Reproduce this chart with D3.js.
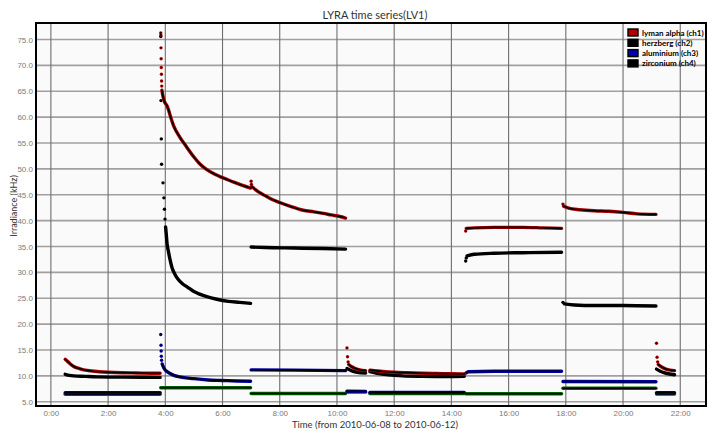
<!DOCTYPE html>
<html>
<head>
<meta charset="utf-8">
<script src="https://cdn.jsdelivr.net/npm/d3@7"></script>
<style>
    body { margin: 0; background: #fff; }
    svg { display: block; font-family: "Lato", "DejaVu Sans", sans-serif; }
</style>
</head>
<body>
<div id="chart"></div>
<script>
// Data: hours since 2010-06-08 00:00, irradiance in kHz
// Each channel is a list of segments, each segment is [hour, value] pairs.
// "Spikes" are the sparse points at the start of a segment (drawn as dots only).

const channelNames = ["lyman alpha (ch1)", "herzberg (ch2)", "aluminium (ch3)", "zirconium (ch4)"];
const channelColours = ["#b00000", "#000000", "#0000a8", "#006400"];

const lymanAlpha = [
    [[0.5, 13.2], [0.6, 12.7], [0.7, 12.2], [0.8, 11.8], [1.0, 11.4], [1.2, 11.1], [1.4, 10.95], [1.7, 10.8], [2.0, 10.7], [2.5, 10.6], [3.0, 10.55], [3.5, 10.5], [3.82, 10.5]],
    [[3.88, 65.2], [3.92, 64.0], [3.97, 63.0], [4.05, 62.3], [4.1, 61.6], [4.2, 59.8], [4.3, 58.2], [4.5, 56.2], [4.75, 54.2], [5.0, 52.3], [5.2, 51.0], [5.44, 49.9], [5.75, 48.9], [6.0, 48.3], [6.37, 47.5], [6.7, 46.8], [6.98, 46.3]],
    [[7.02, 46.6], [7.15, 46.0], [7.3, 45.4], [7.5, 44.8], [7.66, 44.3], [8.0, 43.5], [8.4, 42.7], [8.82, 42.0], [9.2, 41.7], [9.52, 41.4], [9.8, 41.1], [10.1, 40.8], [10.3, 40.5]],
    [[10.41, 12.2], [10.5, 11.8], [10.65, 11.4], [10.8, 11.15], [11.0, 11.0]],
    [[11.15, 11.1], [11.3, 11.0], [11.6, 10.85], [12.0, 10.7], [12.5, 10.6], [13.0, 10.5], [13.5, 10.45], [14.0, 10.4], [14.45, 10.35]],
    [[14.52, 38.5], [14.8, 38.6], [15.5, 38.7], [16.5, 38.7], [17.2, 38.6], [17.85, 38.5]],
    [[17.92, 42.8], [18.1, 42.4], [18.5, 42.1], [19.0, 41.9], [19.5, 41.8], [20.0, 41.6], [20.5, 41.3], [21.15, 41.2]],
    [[21.23, 12.2], [21.35, 11.7], [21.5, 11.3], [21.65, 11.1], [21.8, 11.0]]
];
const lymanAlphaSpikes = [
    [3.84, 76.3], [3.845, 75.9], [3.85, 73.4], [3.855, 71.3], [3.86, 69.6], [3.865, 68.3], [3.87, 67.0], [3.875, 66.0],
    [7.0, 47.6], [7.01, 47.0],
    [10.35, 15.4], [10.37, 13.7], [10.39, 12.7],
    [14.5, 38.0],
    [17.9, 43.2],
    [21.17, 16.3], [21.19, 13.6], [21.21, 12.7]
];

const herzberg = [
    [[0.5, 10.3], [0.65, 10.1], [0.8, 10.0], [1.2, 9.9], [1.6, 9.8], [2.5, 9.75], [3.82, 9.7]],
    [[4.01, 38.8], [4.03, 37.6], [4.06, 35.6], [4.11, 34.0], [4.16, 32.6], [4.23, 31.0], [4.33, 29.7], [4.44, 28.7], [4.6, 27.8], [4.76, 27.2], [5.0, 26.3], [5.2, 25.8], [5.45, 25.3], [5.8, 24.8], [6.2, 24.4], [6.6, 24.2], [6.98, 24.0]],
    [[7.0, 34.9], [7.5, 34.8], [8.5, 34.7], [9.5, 34.6], [10.3, 34.5]],
    [[10.35, 11.4], [10.5, 11.0], [10.7, 10.7], [11.0, 10.55]],
    [[11.15, 10.8], [11.4, 10.5], [11.8, 10.2], [12.3, 10.0], [13.0, 9.9], [13.8, 9.85], [14.45, 9.9]],
    [[14.55, 33.2], [14.8, 33.5], [15.5, 33.7], [16.5, 33.8], [17.85, 33.9]],
    [[17.95, 23.9], [18.3, 23.7], [19.0, 23.6], [20.0, 23.6], [21.15, 23.5]],
    [[21.17, 11.3], [21.3, 10.9], [21.5, 10.5], [21.8, 10.2]]
];
const herzbergSpikes = [
    [3.842, 75.6], [3.85, 63.2], [3.86, 55.8], [3.87, 50.9], [3.92, 47.3], [3.95, 44.4], [3.97, 42.2], [3.99, 40.3],
    [14.5, 32.2], [14.52, 32.8],
    [17.9, 24.2]
];

const aluminium = [
    [[0.5, 6.75], [2.0, 6.75], [3.82, 6.75]],
    [[3.89, 12.3], [3.95, 11.5], [4.02, 11.0], [4.15, 10.5], [4.3, 10.1], [4.5, 9.8], [5.0, 9.45], [5.5, 9.2], [6.0, 9.1], [6.5, 9.0], [6.98, 8.95]],
    [[7.0, 11.15], [8.5, 11.1], [10.3, 11.0]],
    [[10.35, 7.05], [11.0, 7.0]],
    [[11.15, 6.8], [14.45, 6.8]],
    [[14.5, 10.5], [14.6, 10.8], [15.5, 10.9], [17.85, 10.9]],
    [[17.9, 8.9], [21.15, 8.85]],
    [[21.17, 6.75], [21.8, 6.75]]
];
const aluminiumSpikes = [
    [3.84, 18.0], [3.85, 15.9], [3.855, 14.8], [3.86, 13.8], [3.87, 13.0]
];

const zirconium = [
    [[0.5, 6.45], [3.82, 6.45]],
    [[3.84, 7.7], [6.98, 7.7]],
    [[7.0, 6.6], [10.3, 6.6]],
    [[10.35, 6.85], [11.0, 6.85]],
    [[11.15, 6.6], [14.45, 6.6]],
    [[14.5, 6.55], [17.85, 6.55]],
    [[17.9, 7.6], [21.15, 7.6]],
    [[21.17, 6.5], [21.8, 6.5]]
];
const zirconiumSpikes = [];

const xTicks = [0, 2, 4, 6, 8, 10, 12, 14, 16, 18, 20, 22];
const yTicks = [5, 10, 15, 20, 25, 30, 35, 40, 45, 50, 55, 60, 65, 70, 75];

const outerWidth = 708;
const outerHeight = 431;
const margin = { top: 23, right: 2, bottom: 25, left: 36 };
const innerWidth = outerWidth - margin.left - margin.right;
const innerHeight = outerHeight - margin.top - margin.bottom;

const svg = d3.select("#chart")
    .append("svg")
    .attr("width", outerWidth)
    .attr("height", outerHeight);

const g = svg.append("g")
    .attr("transform", "translate(" + margin.left + "," + margin.top + ")");

// Scales
const xScale = d3.scaleLinear()
    .domain([-0.52, 22.9])
    .range([0, innerWidth]);

const yScale = d3.scaleLinear()
    .domain([4.17, 78.2])
    .range([innerHeight, 0]);

// Plot background
g.append("rect")
    .attr("width", innerWidth)
    .attr("height", innerHeight)
    .attr("fill", "#fafafa");

// Grid lines
g.append("g")
    .selectAll("line")
    .data(yTicks)
    .enter()
    .append("line")
    .attr("x1", 0)
    .attr("x2", innerWidth)
    .attr("y1", d => yScale(d))
    .attr("y2", d => yScale(d))
    .attr("stroke", "#a0a0a0")
    .attr("stroke-width", 1.6);

g.append("g")
    .selectAll("line")
    .data(xTicks)
    .enter()
    .append("line")
    .attr("x1", d => xScale(d))
    .attr("x2", d => xScale(d))
    .attr("y1", 0)
    .attr("y2", innerHeight)
    .attr("stroke", "#6e6e6e")
    .attr("stroke-width", 1.1);

// Axes (labels only, no tick marks)
const xAxis = d3.axisBottom(xScale)
    .tickValues(xTicks)
    .tickSize(0)
    .tickPadding(4)
    .tickFormat(d => d + ":00");

g.append("g")
    .attr("transform", "translate(0," + innerHeight + ")")
    .call(xAxis)
    .call(ax => ax.select(".domain").remove())
    .selectAll("text")
    .attr("font-size", 8)
    .attr("fill", "#7a7a7a");

const yAxis = d3.axisLeft(yScale)
    .tickValues(yTicks)
    .tickSize(0)
    .tickPadding(3)
    .tickFormat(d3.format(".1f"));

g.append("g")
    .call(yAxis)
    .call(ax => ax.select(".domain").remove())
    .selectAll("text")
    .attr("font-size", 8)
    .attr("fill", "#7a7a7a");

// Series
const line = d3.line()
    .curve(d3.curveMonotoneX)
    .x(d => xScale(d[0]))
    .y(d => yScale(d[1]));

const series = [
    { segments: zirconium, spikes: zirconiumSpikes, colour: channelColours[3] },
    { segments: aluminium, spikes: aluminiumSpikes, colour: channelColours[2] },
    { segments: herzberg, spikes: herzbergSpikes, colour: channelColours[1] },
    { segments: lymanAlpha, spikes: lymanAlphaSpikes, colour: channelColours[0] }
];

const dataLayer = g.append("g");

series.forEach(s => {
    const sg = dataLayer.append("g");
    // coloured halo of the dense point cloud
    sg.selectAll("path.halo")
        .data(s.segments)
        .enter()
        .append("path")
        .attr("class", "halo")
        .attr("d", line)
        .attr("fill", "none")
        .attr("stroke", s.colour)
        .attr("stroke-width", 3.4)
        .attr("stroke-linecap", "round");
    // dark core
    sg.selectAll("path.core")
        .data(s.segments)
        .enter()
        .append("path")
        .attr("class", "core")
        .attr("d", line)
        .attr("fill", "none")
        .attr("stroke", "#000")
        .attr("stroke-width", 1.6)
        .attr("stroke-linecap", "round");
    // sparse points
    sg.selectAll("circle.spike")
        .data(s.spikes)
        .enter()
        .append("circle")
        .attr("class", "spike")
        .attr("cx", d => xScale(d[0]))
        .attr("cy", d => yScale(d[1]))
        .attr("r", 1.7)
        .attr("fill", s.colour);
    sg.selectAll("circle.spike-core")
        .data(s.spikes)
        .enter()
        .append("circle")
        .attr("class", "spike-core")
        .attr("cx", d => xScale(d[0]))
        .attr("cy", d => yScale(d[1]))
        .attr("r", 0.8)
        .attr("fill", "#000");
});

// Frame
g.append("rect")
    .attr("width", innerWidth)
    .attr("height", innerHeight)
    .attr("fill", "none")
    .attr("stroke", "#000")
    .attr("stroke-width", 2);

// Legend
const legend = g.append("g")
    .attr("transform", "translate(" + (628 - margin.left) + "," + (29 - margin.top) + ")");

const legendItems = legend.selectAll("g")
    .data(channelNames)
    .enter()
    .append("g")
    .attr("transform", (d, i) => "translate(0," + (i * 10.3) + ")");

legendItems.append("rect")
    .attr("width", 10)
    .attr("height", 7)
    .attr("fill", (d, i) => i === 3 ? "#000" : channelColours[i])
    .attr("stroke", "#000")
    .attr("stroke-width", 1.4);

legendItems.append("text")
    .attr("x", 14)
    .attr("y", 6.5)
    .attr("font-size", 8)
    .attr("font-weight", "bold")
    .attr("fill", "#000")
    .text(d => d);

// Titles
svg.append("text")
    .attr("x", 375)
    .attr("y", 19)
    .attr("text-anchor", "middle")
    .attr("font-size", 11)
    .attr("fill", "#333")
    .text("LYRA time series(LV1)");

svg.append("text")
    .attr("x", 375)
    .attr("y", 428)
    .attr("text-anchor", "middle")
    .attr("font-size", 9.5)
    .attr("fill", "#333")
    .text("Time (from 2010-06-08 to 2010-06-12)");

svg.append("text")
    .attr("transform", "translate(17," + 206 + ") rotate(-90)")
    .attr("text-anchor", "middle")
    .attr("font-size", 9)
    .attr("fill", "#333")
    .text("Irradiance (kHz)");
</script>
</body>
</html>
